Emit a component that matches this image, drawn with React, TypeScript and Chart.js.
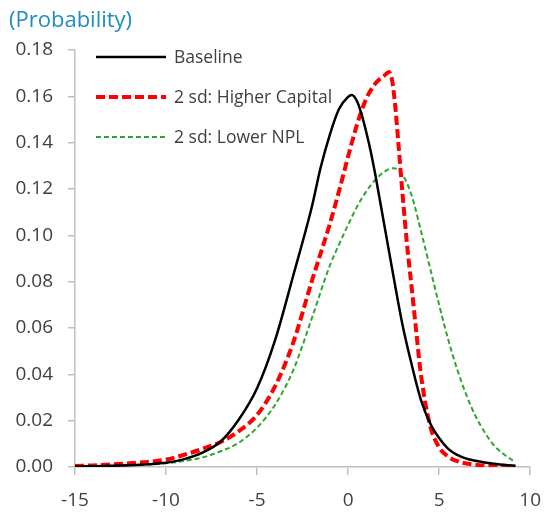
import React, { useEffect, useRef } from "react";
import { Chart, registerables } from "chart.js";

Chart.register(...registerables);

const TITLE = "(Probability)";
const SERIES_LABELS = ["Baseline", "2 sd: Higher Capital", "2 sd: Lower NPL"];
const X_TICKS = [-15, -10, -5, 0, 5, 10];
const X_TICK_LABELS = ["-15", "-10", "-5", "0", "5", "10"];
const Y_TICKS = [0, 0.02, 0.04, 0.06, 0.08, 0.1, 0.12, 0.14, 0.16, 0.18];
const Y_TICK_LABELS = ["0.00", "0.02", "0.04", "0.06", "0.08", "0.10", "0.12", "0.14", "0.16", "0.18"];

const baselineX = [-15, -14, -13, -12, -11, -10, -9, -8, -7, -6, -5, -4, -3, -2, -1.5, -1, -0.5, 0, 0.2, 0.5, 0.75, 1, 1.25, 1.5, 1.75, 2, 2.5, 3, 3.5, 4, 4.5, 5, 5.5, 6, 6.5, 7, 8, 9.2];
const baselineY = [0.0002, 0.0003, 0.0005, 0.0008, 0.0012, 0.0018, 0.0034, 0.0062, 0.011, 0.0205, 0.034, 0.055, 0.083, 0.112, 0.1295, 0.1435, 0.1545, 0.1598, 0.1606, 0.1578, 0.152, 0.1445, 0.136, 0.126, 0.115, 0.104, 0.082, 0.061, 0.044, 0.029, 0.019, 0.0125, 0.0078, 0.0052, 0.0036, 0.0027, 0.0014, 0.0005];

const capitalX = [-15, -14, -13, -12, -11, -10, -9, -8, -7, -6, -5, -4, -3, -2, -1, -0.5, 0, 0.5, 1, 1.5, 2, 2.25, 2.35, 2.45, 2.6, 2.75, 3, 3.25, 3.5, 3.75, 4, 4.5, 5, 5.5, 6, 7, 8, 9];
const capitalY = [0.0004, 0.0007, 0.0011, 0.0016, 0.0022, 0.0032, 0.0053, 0.0078, 0.0108, 0.0155, 0.0225, 0.035, 0.054, 0.08, 0.105, 0.119, 0.134, 0.148, 0.159, 0.1655, 0.169, 0.1705, 0.169, 0.1655, 0.155, 0.141, 0.117, 0.095, 0.077, 0.058, 0.04, 0.018, 0.0085, 0.0045, 0.0025, 0.001, 0.0005, 0.0003];

const nplX = [-15, -14, -13, -12, -11, -10, -9, -8, -7, -6, -5, -4, -3, -2, -1, -0.5, 0, 0.5, 1, 1.5, 2, 2.5, 3, 3.5, 4, 4.5, 5, 5.5, 6, 6.5, 7, 7.5, 8, 8.5, 9.1];
const nplY = [0.0002, 0.0003, 0.0005, 0.0007, 0.0011, 0.0016, 0.0026, 0.0041, 0.0068, 0.0105, 0.017, 0.027, 0.042, 0.064, 0.087, 0.096, 0.1045, 0.1125, 0.119, 0.124, 0.1275, 0.129, 0.126, 0.117, 0.102, 0.086, 0.07, 0.055, 0.042, 0.031, 0.022, 0.015, 0.0095, 0.0058, 0.0025];

const FONT = '"Open Sans", "Noto Sans", sans-serif';
const AXIS_COLOR = "#bfbfbf";
const TEXT_COLOR = "#404040";
const TITLE_COLOR = "#1f8dbf";

const toPoints = (xs: number[], ys: number[]) => xs.map((x, i) => ({ x, y: ys[i] }));

const overlayPlugin = {
  id: "overlay",
  afterDraw(chart: any) {
    const ctx = chart.ctx;
    ctx.save();
    ctx.font = `22px ${FONT}`;
    ctx.fillStyle = TITLE_COLOR;
    ctx.textAlign = "left";
    ctx.textBaseline = "alphabetic";
    ctx.fillText(TITLE, 9, 27);
    chart.data.datasets.forEach((ds: any, i: number) => {
      const y = 57 + 40 * i;
      ctx.beginPath();
      ctx.setLineDash(ds.borderDash || []);
      ctx.lineWidth = ds.borderWidth;
      ctx.strokeStyle = ds.borderColor;
      ctx.moveTo(96, y);
      ctx.lineTo(166, y);
      ctx.stroke();
      ctx.setLineDash([]);
      ctx.font = `17.5px ${FONT}`;
      ctx.fillStyle = TEXT_COLOR;
      ctx.textBaseline = "middle";
      ctx.fillText(ds.label, 174, y + 1);
    });
    ctx.restore();
  },
};

export default function App() {
  const canvasRef = useRef<HTMLCanvasElement | null>(null);

  useEffect(() => {
    if (!canvasRef.current) return;
    const chart = new Chart(canvasRef.current, {
      type: "line",
      data: {
        datasets: [
          {
            label: SERIES_LABELS[0],
            data: toPoints(baselineX, baselineY),
            borderColor: "#000000",
            borderWidth: 2.5,
            pointRadius: 0,
            cubicInterpolationMode: "monotone",
            fill: false,
          },
          {
            label: SERIES_LABELS[1],
            data: toPoints(capitalX, capitalY),
            borderColor: "#ff0000",
            borderWidth: 4,
            borderDash: [9, 4],
            pointRadius: 0,
            cubicInterpolationMode: "monotone",
            fill: false,
          },
          {
            label: SERIES_LABELS[2],
            data: toPoints(nplX, nplY),
            borderColor: "#2fa52f",
            borderWidth: 2,
            borderDash: [5, 3],
            pointRadius: 0,
            cubicInterpolationMode: "monotone",
            fill: false,
          },
        ],
      },
      options: {
        responsive: false,
        animation: false,
        devicePixelRatio: 1,
        layout: { padding: { top: 50, right: 19, left: 0, bottom: 0 } },
        plugins: {
          legend: { display: false },
          tooltip: { enabled: false },
          title: { display: false },
        },
        scales: {
          x: {
            type: "linear",
            min: -15,
            max: 10,
            afterBuildTicks: (s: any) => {
              s.ticks = X_TICKS.map((v) => ({ value: v }));
            },
            afterFit: (s: any) => {
              s.height = 47;
            },
            grid: { drawOnChartArea: false, drawTicks: true, tickLength: 8, color: AXIS_COLOR, lineWidth: 1.5 },
            border: { display: true, color: AXIS_COLOR, width: 1.5 },
            ticks: {
              font: { family: FONT, size: 19 },
              color: TEXT_COLOR,
              padding: 14,
              maxRotation: 0,
              autoSkip: false,
              callback: (_v: any, i: number) => X_TICK_LABELS[i],
            },
          },
          y: {
            type: "linear",
            min: 0,
            max: 0.18,
            afterBuildTicks: (s: any) => {
              s.ticks = Y_TICKS.map((v) => ({ value: v }));
            },
            afterFit: (s: any) => {
              s.width = 75;
            },
            grid: { drawOnChartArea: false, drawTicks: true, tickLength: 7, color: AXIS_COLOR, lineWidth: 1.5 },
            border: { display: true, color: AXIS_COLOR, width: 1.5 },
            ticks: {
              font: { family: FONT, size: 19 },
              color: TEXT_COLOR,
              padding: 15,
              autoSkip: false,
              callback: (_v: any, i: number) => Y_TICK_LABELS[i],
            },
          },
        },
      },
      plugins: [overlayPlugin],
    } as any);
    return () => chart.destroy();
  }, []);

  return (
    <div style={{ position: "fixed", left: 0, top: 0, width: 555, height: 514, background: "#ffffff" }}>
      <canvas ref={canvasRef} width={555} height={514} style={{ display: "block" }} />
    </div>
  );
}
